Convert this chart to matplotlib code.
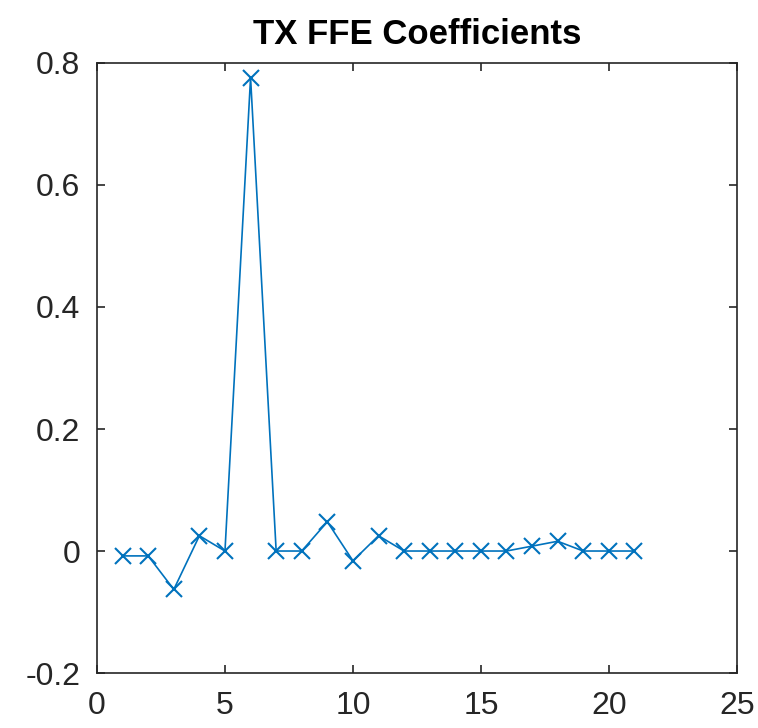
import matplotlib.pyplot as plt
import numpy as np

# Tap index and coefficient values
taps = np.arange(1, 22)
coeffs = [-0.008, -0.008, -0.063, 0.025, 0.0, 0.776, 0.0, 0.0, 0.048, -0.016,
          0.025, 0.0, 0.0, 0.0, 0.0, 0.0, 0.008, 0.016, 0.0, 0.0, 0.0]
xticks = [0, 5, 10, 15, 20, 25]
yticks = [-0.2, 0, 0.2, 0.4, 0.6, 0.8]
ytick_labels = ['-0.2', '0', '0.2', '0.4', '0.6', '0.8']

plt.rcParams['font.family'] = ['Liberation Sans', 'DejaVu Sans']
axis_color = '#262626'

fig = plt.figure(figsize=(7.58, 7.28), dpi=100)
ax = fig.add_axes([0.128, 0.0755, 0.844, 0.838])

ax.plot(taps, coeffs, color='#0072BD', linewidth=1.2, marker='x',
        markersize=11, markeredgewidth=1.5)

ax.set_xlim(0, 25)
ax.set_ylim(-0.2, 0.8)
ax.set_xticks(xticks)
ax.set_yticks(yticks)
ax.set_yticklabels(ytick_labels)

ax.tick_params(direction='in', length=6, width=1.2, top=True, right=True,
               labelsize=23, colors=axis_color)
ax.tick_params(axis='x', pad=13)
ax.tick_params(axis='y', pad=12)
for s in ax.spines.values():
    s.set_color(axis_color)
    s.set_linewidth(1.2)

ax.set_title('TX FFE Coefficients', fontsize=25, fontweight='bold', pad=14)

plt.savefig('out.png', dpi=100)
